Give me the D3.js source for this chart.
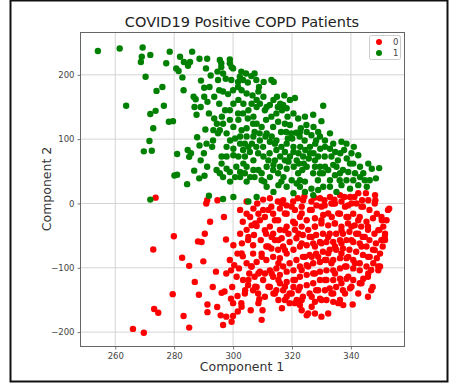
<!DOCTYPE html>
<html>
<head>
<meta charset="utf-8">
<script src="https://cdn.jsdelivr.net/npm/d3@7"></script>
<style>
  body { margin: 0; background: #fff; }
  text { font-family: "DejaVu Sans", sans-serif; }
</style>
</head>
<body>
<svg id="chart" width="449" height="388"></svg>
<script>
// class labels + colours for the legend
const classes = ["0", "1"];
const classColors = ["#ff0000", "#008000"];
const xTicks = [260, 280, 300, 320, 340];
const yTicks = [-200, -100, 0, 100, 200];

// class 0 points, [component 1, component 2]
const class0 = [
  [273.7,9],[272.9,-71.5],[279.9,-51],[282.7,-84.5],[285.1,-97],[279.5,-141],[273.2,-164],[274.6,-170],
  [266,-195],[269.7,-201],[283.2,-175],[285.1,-193],[288.1,-59],[289.3,-60],[290.4,-47],[290.9,0],
  [291.2,5],[294.7,5],[292.2,-28.5],[287,-122],[288.4,-142],[291.3,-157],[291.3,-169],[289.9,-90],
  [294.2,-106],[293.1,-130],[296.9,-21],[296.1,-139],[297.1,-137],[296.6,-189],[297.7,-176],[299.5,-184],
  [300,-175],[297.6,-56],[298.9,-88],[299.7,-130],[302.4,-10],[303.3,-28.5],[304.6,3],[305.8,-21],
  [301.5,-78],[303.3,-82],[304.6,-93],[305.5,-109],[301.2,-114],[301.5,-144],[302.8,-155],[304,-140],
  [306,-166],[307.1,-49],[308,-35],[309.4,-57],[308.2,0],[310.2,6],[312.5,8],[310.8,-21],
  [311.2,-47],[309.7,-181],[310,-166],[308.9,-149],[308,-130],[310.2,-119],[312.5,-130],[313.7,-140],
  [315.4,-150],[316.6,-163],[318.2,-145],[320.5,-130],[321.6,-150],[323.3,-166],[325,-174],[327.8,-171],
  [329.5,-148],[331.2,-135],[334,-140],[336.3,-150],[337.4,-158],[340.6,-157],[347.4,-130],[349.3,-104],
  [349.9,-98],[348.8,-85],[350.4,-57],[351.6,-47],[353,-8],[352.1,-26],[348.2,13],[345.9,5],
  [348.8,-16],[350.5,-26],[342.5,16],[339.7,10],[336.3,13],[332.9,10],[329.5,8],[326.6,3],
  [323.8,5],[320.4,3],[318.2,-3],[315.9,-8],[313.6,-16],[315.3,-26],[318.2,-16],[321,-10],
  [323.3,-5],[326.1,-10],[328.3,-3],[331.1,-3],[334,0],[336.8,3],[339,-3],[341.9,0],
  [344.1,-5],[346.3,-10],[347.5,-23],[345.3,-28.5],[343,-21],[340.8,-16],[338.5,-21],[336.3,-16],
  [333.5,-21],[330.6,-18],[327.8,-23],[325,-26],[322.7,-21],[320.4,-28.5],[318.2,-36],[315.9,-41],
  [313.6,-47],[312.5,-36],[314.2,-57],[316.5,-54],[318.8,-47],[321,-41],[323.3,-36],[325.5,-41],
  [327.8,-36],[330,-31],[332.3,-34],[334.5,-31],[336.8,-36],[339,-31],[341.3,-34],[343.5,-36],
  [345.8,-41],[348,-47],[349.7,-41],[350.8,-67],[348.5,-62],[346.3,-57],[344,-52],[341.8,-47],
  [339.5,-44],[337.3,-47],[335,-47],[332.8,-47],[330.5,-47],[328.2,-49],[326,-52],[323.7,-49],
  [321.5,-54],[319.2,-60],[317,-67],[315.3,-72],[313,-70],[311.3,-67],[309.7,-78],[311.3,-88],
  [313.6,-83],[315.9,-85],[318.2,-78],[320.5,-72],[322.7,-67],[325,-65],[327.2,-62],[329.5,-60],
  [331.7,-60],[334,-60],[336.3,-57],[338.5,-57],[340.8,-60],[343,-62],[345.3,-67],[347.5,-72],
  [346.4,-83],[344.1,-80],[341.8,-75],[339.5,-72],[337.3,-70],[335,-72],[332.8,-72],[330.5,-75],
  [328.2,-78],[326,-80],[323.7,-83],[321.5,-88],[319.2,-93],[317,-98],[314.7,-101],[312.5,-104],
  [310.8,-109],[309.1,-106],[307.3,-114],[313.6,-114],[315.9,-111],[318.2,-106],[320.5,-104],[322.7,-98],
  [325,-96],[327.2,-93],[329.5,-91],[331.7,-88],[334,-88],[336.3,-85],[338.5,-85],[340.8,-88],
  [343,-93],[345.3,-98],[343,-104],[340.8,-101],[338.5,-98],[336.3,-101],[334,-104],[331.7,-104],
  [329.5,-106],[327.2,-109],[325,-111],[322.7,-114],[320.5,-119],[318.2,-122],[315.9,-124],[314.7,-135],
  [317,-135],[319.2,-140],[322.7,-130],[325,-127],[327.2,-124],[329.5,-119],[331.7,-119],[334,-119],
  [336.3,-117],[338.5,-117],[340.8,-119],[343,-124],[339.7,-132],[337.3,-135],[335,-130],[332.8,-132],
  [328.2,-135],[326,-140],[323.7,-145],[327.8,-153],[331.7,-150],[334,-153],[319.2,-155],[322.7,-158],
  [308.5,-140],[306.8,-135],[305.1,-127],[303.4,-119],[306.2,-98],[308,-91],[306.8,-78],[306.8,-65],
  [305.1,-57],[304.6,-41],[306.3,-34],[309.1,-26],[310.2,-10],[313,-5],[315.2,3],[317,5],
  [308.6,-16],[306.9,-8],[304.6,-16],[302.4,-47],[303,-62],[300.1,-65],[299.3,-104],[302,-101],
  [300.4,-96],[297.7,-109],[299.3,-148],[301.6,-168],[300,-155],[294.6,-161],[295.8,-174],[341.2,10],
  [337.8,10],[334.4,6],[331,5],[327.6,9],[324.2,11],[322,8],[343.8,5],[345.1,16],
  [348.3,5],[351,-36],[351.6,-57],[349.9,-78],[347.6,-93],[345.9,-109],[344.2,-117],
  // second pass over the dense blob
  [334.6,-31],[336.8,-41.5],[332.3,-52],[330,-62],[334.6,-67],[340.2,-57],[343.6,-67],[345.8,-83],
  [348.1,-72.5],[350.4,-57],[341.4,-93],[338,-98],[334.6,-109],[331.2,-119],[328.9,-135],[326.7,-145],
  [330,-150],[333.4,-140],[327.8,-109],[325.5,-98],[326.7,-83],[328.9,-83],[327.8,-67],[326.7,-52],
  [327.8,-36],[330,-26],[332.3,-15.5],[335.7,-15.5],[339.1,-21],[342.5,-26],[345.8,-36],[349.3,-41.5],
  [351.5,-52],[352.6,-10],[350.4,-21],[348.1,0],[343.6,-5],[340.2,0],[333.4,0],[330,-5],
  [326.7,-10],[323.3,-15.5],[321,-31],[322.2,-47],[323.3,-62],[324.4,-83],[323.3,-103.5],[321,-119],
  [322.2,-135],[323.3,-150],[325.5,-171],[326.7,-160.5],[330,-176],[332.3,-171],[335.7,-155],[338,-140],
  [340.2,-129.5],[342.5,-140],[343.6,-124],[345.8,-114],[346.9,-103.5],[349.3,-98],[346.9,-135],[345.8,-145],
  [339.1,-114],[336.8,-124],[333.4,-93],[331.2,-88],[332.3,-77.6],[336.8,-77.6],[339.1,-83],[336.8,-62],
  [342.5,-47],[344.7,-52],[340.2,-36],[338,-5],[334.6,0],[317.6,-41.5],[315.4,-57],[317.6,-72.5],
  [315.4,-93],[313.1,-109],[315.4,-119],[317.6,-129.5],[314.2,-140],[312,-129.5],[310.8,-145],[308.6,-155],
  [317.6,-150],[319.9,-140],[321,-155],[307.5,-129.5],[305.2,-119],[308.6,-109],[306.3,-98],[309.7,-83],
  [312,-67],[313.1,-52],[310.8,-41.5],[314.2,-26],[317.6,-15.5],[319.9,-5],[316.5,0],[312,-10],
  [307.5,-31],[305.2,-52],[302.9,-77.6],[304.1,-135],[302.9,-160.5]
];

// class 1 points
const class1 = [
  [254.1,237],[261.5,241],[269.3,242.5],[269,228],[268.7,220],[271.9,231],[270.3,197],[274,175],
  [276,181],[263.7,152],[273.7,144],[271.9,139],[276.5,152],[272.9,117],[271.6,97],[269.7,81],
  [272.4,82],[278.2,127],[279.6,128],[277.3,218],[278.5,236],[271.9,6],[281,77],[280.1,43.5],
  [281,44.6],[284.4,30],[280.7,210],[281.5,206],[282,228],[283.3,220],[285.4,220],[286.1,236],
  [284.7,214],[282.8,196],[283.2,176],[286.6,166],[287.3,162],[286.9,150],[288.6,225],[291.2,225],
  [290.8,210],[289.1,191],[290.2,180],[292,181],[287.6,138],[287.8,103],[288.6,90],[290.6,115],
  [284.6,83],[285.1,72.5],[285.7,78],[286.8,51],[288.5,39],[290.3,43],[291.8,12],[295.5,223],
  [296,212],[294.7,205],[296.6,202],[298.9,224],[299.5,212],[297.5,194],[294.9,192],[295.3,176],
  [296.6,174],[298.3,170],[300,176],[301.7,189],[302.3,197],[303.4,192],[305,188],[306.2,198],
  [307.3,202],[307.9,192],[308.8,181],[310.4,189],[313,192],[313.8,189],[302.9,176],[304.6,171],
  [306.6,168],[308.6,174],[308,161],[310.3,166],[311.4,150],[313.7,161],[314.9,166],[316,155],
  [317.4,168],[319.3,161],[321,164],[315.2,150],[316.6,145],[318.5,135],[320.5,140],[322.1,132],
  [324.4,135],[327.2,138],[330.6,152],[330,128],[324.9,122],[323,117],[321.4,110],[320.1,101],
  [322.6,104],[324.3,98],[326.6,106],[328.2,98],[332.9,109],[331.2,88],[334,93],[336.8,96],
  [338.5,93],[337.7,83],[340.2,78],[342.5,75],[339.7,62],[339.1,49],[341.4,47],[343.1,41],
  [345.9,62],[347.1,54],[349.6,55],[348.5,39],[345.4,26],[342.5,28.5],[339.7,23],[336.8,28.5],
  [335.1,18],[332.9,36],[332.3,52],[329.5,57],[327.8,67],[326.1,78],[323.8,73],[321.6,67],
  [319.3,73],[317.6,80],[318.2,93],[316.4,88],[314.7,98],[313.1,104],[311.4,109],[309.7,119],
  [308,124],[306.9,135],[305.2,145],[303.5,155],[301.8,161],[300.1,155],[298.9,145],[297.3,145],
  [296.2,135],[294.5,124],[293.3,114],[295.5,114],[297.8,109],[300.1,119],[301.8,130],[302.9,114],
  [304.6,104],[302.4,93],[300.1,85],[297.8,73],[296.1,62],[294.4,52],[296.6,41],[298.9,49],
  [301.1,57],[302.4,41],[304.6,34],[304,73],[305.7,80],[306.9,67],[308.6,52],[309.7,36],
  [311.4,26],[313.7,18],[315.4,28.5],[317.1,41],[318.2,54],[319.9,36],[322.1,47],[324.4,34],
  [326.6,23],[328.8,36],[330.5,47],[320.5,16],[308,10],[305.2,3],[300.1,10],[296.6,7],
  [310.2,88],[312.4,78],[314.2,67],[315.9,57],[311.4,57],[312.5,41],[314.7,83],[309.1,98],
  [306.9,104],[319.3,122],[320.5,88],[322.8,88],[325,57],[327.2,47],[328.9,73],[331.1,73],
  [333.4,73],[335.6,67],[335.1,57],[337.3,52],[336.2,36],[341,88],[289,67],[290.1,78],
  [292.9,88],[291.2,57],[301.7,181],[302.8,205],[304.4,202],[299.4,192],[300,210],[298.9,218],
  [296,218],[292.4,199],[293.6,166],[295.3,155],[291.3,158],[290.2,166],[289,150],[291.8,140],
  [293.6,132],[301.7,140],[303.4,140],[305,132],[306.8,124],[307.3,111],[309,109],[311.2,130],
  [313,135],[314.7,140],[315.3,127],[313.6,119],[317.6,124],[318,111],[316.3,111],[318.6,101],
  [319.7,109],[312.5,96],[311,104],[314.2,93],[307.9,88],[308.5,78],[310.3,73],[312,67],
  [306.9,52],[305.8,41],[304,47],[307.3,41],[309.7,47],[310.6,34],[313.6,52],[315.3,47],
  [316.4,34],[318.2,26],[318.8,65],[320.6,57],[322.3,62],[323.5,52],[324,62],[325.7,70],
  [327.3,78],[329.6,85],[327.9,93],[326.1,88],[324.5,83],[322.2,78],[320.5,80],[322.7,111],
  [325,111],[327.3,119],[328.9,111],[329.5,104],[331.2,98],[332.9,85],[334.7,80],[336.4,78],
  [338.6,70],[340.8,62],[343.1,57],[344.2,47],[344.7,36],[346.4,36],[340.8,36],[338.5,36],
  [334.6,44],[332.9,26],[330.6,26],[328.9,21],[327.2,13],[324.4,18],[322.7,26],[322.7,36],
  [321.6,31],[331.2,57],[329.5,47],[327.8,57],[334,60],[336.3,47],[316,73],[313.7,60],
  [317.6,67],[300.1,75],[301.8,73],[303.5,62],[304.6,57],[302.4,49],[300.7,41],[299,34],
  [297.8,54],[295.5,47],[296.1,73],[299,98],[300.7,101],[302.4,104],[304,93],[305.2,88],
  [306.4,93],[303.4,83],[297.8,88],[298.9,130],[296.6,124],[294.9,109],[293.2,98],[291,93],
  [304.6,117],[308,150],[306.3,155],[309.1,155],[310.8,145],[312.5,153],[317,153],[318.2,148]
];

const svg = d3.select("#chart");

// outer frame around the whole figure
svg.append("rect")
  .attr("x", 10.5).attr("y", 0.5)
  .attr("width", 437).attr("height", 381)
  .attr("fill", "none")
  .attr("stroke", "#111")
  .attr("stroke-width", 2);

const margin = {left: 80.5, right: 404.5, top: 32.5, bottom: 346.5};

const x = d3.scaleLinear().domain([248.2, 358.2]).range([margin.left, margin.right]);
const y = d3.scaleLinear().domain([-222.4, 265.8]).range([margin.bottom, margin.top]);

// grid
const grid = svg.append("g");
grid.selectAll("line.gx").data(xTicks).enter().append("line")
  .attr("x1", d => x(d)).attr("x2", d => x(d))
  .attr("y1", margin.top).attr("y2", margin.bottom)
  .attr("stroke", "#d4d4d4").attr("stroke-width", 1);
grid.selectAll("line.gy").data(yTicks).enter().append("line")
  .attr("x1", margin.left).attr("x2", margin.right)
  .attr("y1", d => y(d)).attr("y2", d => y(d))
  .attr("stroke", "#d4d4d4").attr("stroke-width", 1);

// axes
const xAxis = svg.append("g")
  .attr("transform", `translate(0,${margin.bottom})`)
  .call(d3.axisBottom(x).tickValues(xTicks).tickSize(3).tickPadding(3).tickFormat(d3.format("d")));
const yAxis = svg.append("g")
  .attr("transform", `translate(${margin.left},0)`)
  .call(d3.axisLeft(y).tickValues(yTicks).tickSize(3).tickPadding(3)
    .tickFormat(d => d < 0 ? "\u2212" + Math.abs(d) : d));
[xAxis, yAxis].forEach(a => {
  a.select(".domain").remove();
  a.selectAll(".tick line").attr("stroke", "#777");
  a.selectAll(".tick text").attr("fill", "#444")
    .style("font-size", "8.5px").style("font-family", "DejaVu Sans, sans-serif");
});

// points: class 0 first, class 1 on top
[class0, class1].forEach((pts, i) => {
  svg.append("g").selectAll("circle")
    .data(pts).enter().append("circle")
    .attr("cx", d => x(d[0]))
    .attr("cy", d => y(d[1]))
    .attr("r", 3.2)
    .attr("fill", classColors[i]);
});

// plot frame
svg.append("rect")
  .attr("x", margin.left).attr("y", margin.top)
  .attr("width", margin.right - margin.left)
  .attr("height", margin.bottom - margin.top)
  .attr("fill", "none").attr("stroke", "#666").attr("stroke-width", 1);

// title + axis labels
svg.append("text")
  .attr("x", 242).attr("y", 27)
  .attr("text-anchor", "middle")
  .attr("fill", "#222")
  .style("font-size", "14.5px")
  .text("COVID19 Positive COPD Patients");
svg.append("text")
  .attr("x", 242).attr("y", 371)
  .attr("text-anchor", "middle")
  .attr("fill", "#333")
  .style("font-size", "12.5px")
  .text("Component 1");
svg.append("text")
  .attr("transform", "translate(51,189) rotate(-90)")
  .attr("text-anchor", "middle")
  .attr("fill", "#333")
  .style("font-size", "12.5px")
  .text("Component 2");

// legend
const legend = svg.append("g");
legend.append("rect")
  .attr("x", 369.5).attr("y", 35.5)
  .attr("width", 31).attr("height", 24).attr("rx", 2)
  .attr("fill", "#fff").attr("stroke", "#ccc");
classes.forEach((c, i) => {
  legend.append("circle")
    .attr("cx", 379).attr("cy", 42 + i * 11)
    .attr("r", 3).attr("fill", classColors[i]);
  legend.append("text")
    .attr("x", 393).attr("y", 45 + i * 11)
    .attr("fill", "#444")
    .style("font-size", "8.5px")
    .text(c);
});
</script>
</body>
</html>
